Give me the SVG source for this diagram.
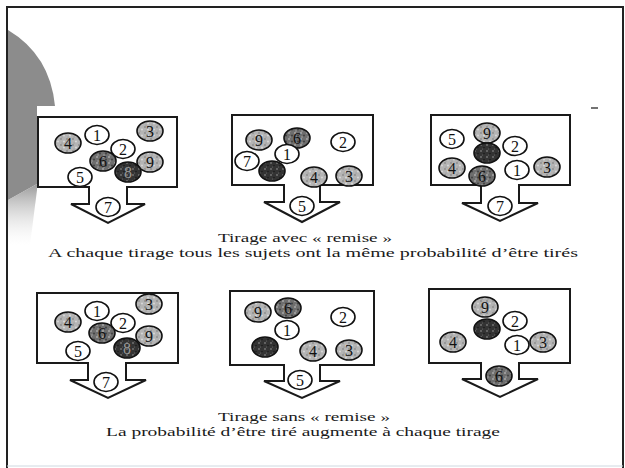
<svg xmlns="http://www.w3.org/2000/svg" width="625" height="468" viewBox="0 0 625 468">
<defs>
<style>
.frame{fill:none;stroke:#222;stroke-width:2}
.box{fill:#fff;stroke:#1a1a1a;stroke-width:2;stroke-linejoin:miter}
.b{stroke:#111;stroke-width:1.6}
.w{fill:#fff}
.g{fill:url(#speckL)}
.m{fill:url(#speckM)}
.d{fill:url(#speckD)}
.n{font-family:"Liberation Serif","Times New Roman",serif;font-size:16px;text-anchor:middle;fill:#111}
.nd{fill:#9a9a9a}
.cap{font-family:"Liberation Serif","Times New Roman",serif;font-size:13.5px;fill:#1a1a1a}
</style>
<pattern id="speckL" width="6" height="6" patternUnits="userSpaceOnUse">
<rect width="6" height="6" fill="#b4b4b4"/>
<circle cx="1" cy="1" r="0.9" fill="#8a8a8a"/>
<circle cx="4" cy="3.5" r="0.9" fill="#dcdcdc"/>
<circle cx="2" cy="5" r="0.6" fill="#909090"/>
</pattern>
<pattern id="speckM" width="6" height="6" patternUnits="userSpaceOnUse">
<rect width="6" height="6" fill="#6e6e6e"/>
<circle cx="1" cy="1" r="1" fill="#a8a8a8"/>
<circle cx="4" cy="3.5" r="0.9" fill="#3c3c3c"/>
<circle cx="2" cy="5" r="0.7" fill="#b0b0b0"/>
</pattern>
<pattern id="speckD" width="6" height="6" patternUnits="userSpaceOnUse">
<rect width="6" height="6" fill="#333"/>
<circle cx="1" cy="1" r="0.9" fill="#777"/>
<circle cx="4" cy="3.5" r="0.8" fill="#1a1a1a"/>
<circle cx="2.5" cy="5" r="0.6" fill="#6a6a6a"/>
</pattern>
<linearGradient id="fade" x1="0" y1="0" x2="0" y2="1">
<stop offset="0" stop-color="#9a9a9a"/>
<stop offset="1" stop-color="#e8e8e8" stop-opacity="0"/>
</linearGradient>
</defs>
<rect width="625" height="468" fill="#fff"/>
<!-- decorative gray shape on left -->
<path d="M8,30 Q50,55 55,106 L37,106 L37,184 L8,200 Z" fill="#8c8c8c"/>
<path d="M8,200 L37,184 L37,190 L30,245 L8,245 Z" fill="url(#fade)"/>
<!-- frame -->
<path class="frame" d="M7,468 V7 H623 V468"/>
<line x1="7" y1="466" x2="623" y2="466" stroke="#cfd8e0" stroke-width="1"/>
<line x1="591" y1="108" x2="598" y2="108" stroke="#444" stroke-width="1.5"/>

<g id="connectors"/>

<g id="box1">
<path class="box" d="M38,117 H177 V187 H127 V204 H145 L108,223 L71,204 H89 V187 H38 Z"/>
<ellipse class="b g" cx="68" cy="143" rx="13" ry="10"/><text class="n" x="68" y="149">4</text>
<ellipse class="b w" cx="97" cy="135" rx="12" ry="9.5"/><text class="n" x="97" y="141">1</text>
<ellipse class="b g" cx="150" cy="131" rx="13" ry="10"/><text class="n" x="150" y="137">3</text>
<ellipse class="b w" cx="123" cy="149" rx="12" ry="9.5"/><text class="n" x="123" y="155">2</text>
<ellipse class="b m" cx="103" cy="161" rx="13" ry="10"/><text class="n" x="103" y="167">6</text>
<ellipse class="b g" cx="150" cy="162" rx="13" ry="10"/><text class="n" x="150" y="168">9</text>
<ellipse class="b d" cx="128" cy="172" rx="13" ry="10"/><text class="n nd" x="128" y="178">8</text>
<ellipse class="b w" cx="80" cy="177" rx="12" ry="9.5"/><text class="n" x="80" y="183">5</text>
<ellipse class="b w" cx="108" cy="207" rx="12" ry="9.5"/><text class="n" x="108" y="213">7</text>
</g>

<g id="box2">
<path class="box" d="M232,115 H373 V185 H320 V202 H340 L302,222 L264,202 H284 V185 H232 Z"/>
<ellipse class="b g" cx="259" cy="140" rx="13" ry="10"/><text class="n" x="259" y="146">9</text>
<ellipse class="b m" cx="297" cy="138" rx="13" ry="10"/><text class="n" x="297" y="144">6</text>
<ellipse class="b w" cx="343" cy="142" rx="12" ry="9.5"/><text class="n" x="343" y="148">2</text>
<ellipse class="b w" cx="247" cy="161" rx="12" ry="9.5"/><text class="n" x="247" y="167">7</text>
<ellipse class="b w" cx="287" cy="154" rx="12" ry="9.5"/><text class="n" x="287" y="160">1</text>
<ellipse class="b d" cx="272" cy="171" rx="13" ry="10"/>
<ellipse class="b g" cx="314" cy="177" rx="13" ry="10"/><text class="n" x="314" y="183">4</text>
<ellipse class="b g" cx="349" cy="176" rx="13" ry="10"/><text class="n" x="349" y="182">3</text>
<ellipse class="b w" cx="302" cy="206" rx="12" ry="9.5"/><text class="n" x="302" y="212">5</text>
</g>

<g id="box3">
<path class="box" d="M431,115 H570 V185 H519 V203 H538 L500,221 L462,203 H481 V185 H431 Z"/>
<ellipse class="b w" cx="452" cy="139" rx="12" ry="9.5"/><text class="n" x="452" y="145">5</text>
<ellipse class="b g" cx="487" cy="133" rx="13" ry="10"/><text class="n" x="487" y="139">9</text>
<ellipse class="b w" cx="515" cy="146" rx="12" ry="9.5"/><text class="n" x="515" y="152">2</text>
<ellipse class="b d" cx="487" cy="153" rx="13" ry="10"/>
<ellipse class="b g" cx="452" cy="168" rx="13" ry="10"/><text class="n" x="452" y="174">4</text>
<ellipse class="b w" cx="517" cy="170" rx="12" ry="9.5"/><text class="n" x="517" y="176">1</text>
<ellipse class="b g" cx="547" cy="167" rx="13" ry="10"/><text class="n" x="547" y="173">3</text>
<ellipse class="b m" cx="482" cy="176" rx="13" ry="10"/><text class="n" x="482" y="182">6</text>
<ellipse class="b w" cx="500" cy="206" rx="12" ry="9.5"/><text class="n" x="500" y="212">7</text>
</g>

<g id="caption1">
<text class="cap" x="305" y="242" text-anchor="middle" textLength="174" lengthAdjust="spacingAndGlyphs">Tirage avec « remise »</text>
<text class="cap" x="48" y="257" textLength="530" lengthAdjust="spacingAndGlyphs">A chaque tirage tous les sujets ont la même probabilité d’être tirés</text>
</g>

<g id="box4">
<path class="box" d="M37,293 H178 V363 H126 V380 H146 L108,398 L70,380 H88 V363 H37 Z"/>
<ellipse class="b g" cx="68" cy="322" rx="13" ry="10"/><text class="n" x="68" y="328">4</text>
<ellipse class="b w" cx="97" cy="311" rx="12" ry="9.5"/><text class="n" x="97" y="317">1</text>
<ellipse class="b g" cx="149" cy="304" rx="13" ry="10"/><text class="n" x="149" y="310">3</text>
<ellipse class="b w" cx="123" cy="323" rx="12" ry="9.5"/><text class="n" x="123" y="329">2</text>
<ellipse class="b m" cx="102" cy="333" rx="13" ry="10"/><text class="n" x="102" y="339">6</text>
<ellipse class="b g" cx="149" cy="336" rx="13" ry="10"/><text class="n" x="149" y="342">9</text>
<ellipse class="b d" cx="127" cy="348" rx="13" ry="10"/><text class="n nd" x="127" y="354">8</text>
<ellipse class="b w" cx="78" cy="351" rx="12" ry="9.5"/><text class="n" x="78" y="357">5</text>
<ellipse class="b w" cx="106" cy="382" rx="12" ry="9.5"/><text class="n" x="106" y="388">7</text>
</g>

<g id="box5">
<path class="box" d="M230,291 H374 V365 H320 V381 H340 L302,398 L264,381 H284 V365 H230 Z"/>
<ellipse class="b g" cx="258" cy="312" rx="13" ry="10"/><text class="n" x="258" y="318">9</text>
<ellipse class="b m" cx="288" cy="308" rx="13" ry="10"/><text class="n" x="288" y="314">6</text>
<ellipse class="b w" cx="343" cy="317" rx="12" ry="9.5"/><text class="n" x="343" y="323">2</text>
<ellipse class="b w" cx="287" cy="330" rx="12" ry="9.5"/><text class="n" x="287" y="336">1</text>
<ellipse class="b d" cx="265" cy="347" rx="13" ry="10"/>
<ellipse class="b g" cx="313" cy="351" rx="13" ry="10"/><text class="n" x="313" y="357">4</text>
<ellipse class="b g" cx="349" cy="350" rx="13" ry="10"/><text class="n" x="349" y="356">3</text>
<ellipse class="b w" cx="300" cy="380" rx="12" ry="9.5"/><text class="n" x="300" y="386">5</text>
</g>

<g id="box6">
<path class="box" d="M429,289 H570 V363 H519 V379 H538 L500,397 L462,379 H481 V363 H429 Z"/>
<ellipse class="b g" cx="485" cy="307" rx="13" ry="10"/><text class="n" x="485" y="313">9</text>
<ellipse class="b w" cx="515" cy="321" rx="12" ry="9.5"/><text class="n" x="515" y="327">2</text>
<ellipse class="b d" cx="487" cy="329" rx="13" ry="10"/>
<ellipse class="b g" cx="453" cy="342" rx="13" ry="10"/><text class="n" x="453" y="348">4</text>
<ellipse class="b w" cx="517" cy="345" rx="12" ry="9.5"/><text class="n" x="517" y="351">1</text>
<ellipse class="b g" cx="543" cy="342" rx="13" ry="10"/><text class="n" x="543" y="348">3</text>
<ellipse class="b m" cx="499" cy="376" rx="13" ry="10"/><text class="n" x="499" y="382">6</text>
</g>

<g id="caption2">
<text class="cap" x="304" y="421" text-anchor="middle" textLength="172" lengthAdjust="spacingAndGlyphs">Tirage sans « remise »</text>
<text class="cap" x="106" y="436" textLength="394" lengthAdjust="spacingAndGlyphs">La probabilité d’être tiré augmente à chaque tirage</text>
</g>
</svg>
